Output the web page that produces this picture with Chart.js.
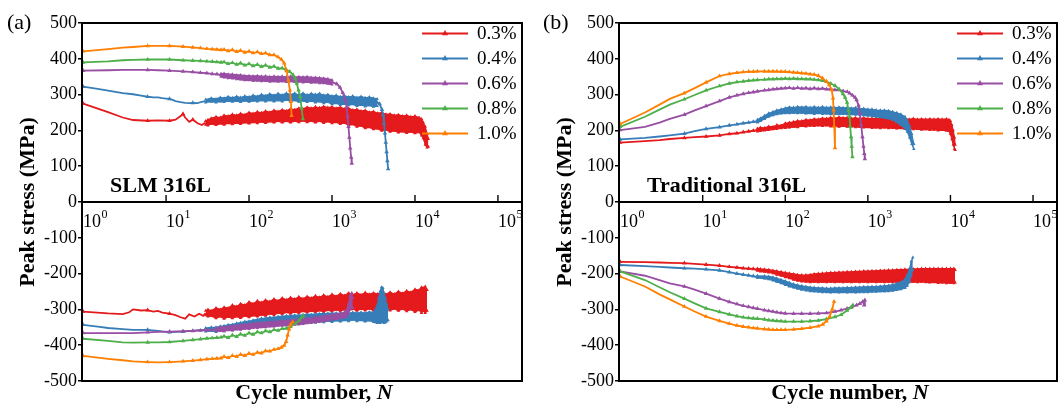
<!DOCTYPE html>
<html>
<head>
<meta charset="utf-8">
<script src="https://cdn.jsdelivr.net/npm/chart.js@4.4.1/dist/chart.umd.min.js"></script>
<style>
html,body{margin:0;padding:0;background:#fff;}
#wrap{position:relative;width:1061px;height:405px;overflow:hidden;}
.panel{position:absolute;top:0;height:405px;}
canvas{display:block;}
</style>
</head>
<body>
<div id="wrap">
  <div class="panel" style="left:0;width:530px"><canvas id="ca" width="530" height="405"></canvas></div>
  <div class="panel" style="left:530px;width:531px"><canvas id="cb" width="531" height="405"></canvas></div>
</div>
<script>
// ---------- labels ----------
const strainLabels = ['0.3%', '0.4%', '0.6%', '0.8%', '1.0%'];
const seriesColors = ['#e41a1c', '#377eb8', '#984ea3', '#4daf4a', '#ff7f00'];
const panelTags = ['(a)', '(b)'];
const materialLabels = ['SLM 316L', 'Traditional 316L'];
const yAxisTitle = 'Peak stress (MPa)';
const xAxisTitle = 'Cycle number, ';
const xAxisSymbol = 'N';
const xTickExponents = [0, 1, 2, 3, 4, 5];
const yTickStep = 100;

// Line parts: [cycle N, peak stress MPa]; scatter bands: [cycle N, lower MPa, upper MPa]
// ---------- (a) SLM 316L ----------
const slm03T = [[1,275],[2,251],[3,236],[4,229],[6,227],[8,228],[11,227],[13,230],[15,240],[16,246],[17,236],[19,224],[21,230],[24,220],[27,215],[30,222]];
const slm03TBand = [[30,216,226],[32,214,230],[35,218,234],[40,215,238],[45,219,236],[50,216,242],[56,220,240],[63,217,245],[71,221,242],[79,218,247],[89,222,244],[100,219,250],[112,223,247],[126,220,252],[141,224,249],[158,221,254],[178,225,251],[200,222,256],[224,226,253],[251,222,258],[282,226,255],[316,222,260],[355,226,258],[398,223,262],[447,227,260],[501,223,265],[562,226,262],[631,222,266],[708,226,263],[794,221,267],[891,225,264],[1000,220,266],[1122,223,262],[1259,218,265],[1413,221,260],[1585,214,262],[1778,217,257],[1995,210,259],[2239,213,254],[2512,206,256],[2818,209,251],[3162,203,253],[3548,205,248],[3981,199,250],[4467,202,245],[5012,196,246],[5623,199,242],[6310,194,244],[7079,197,240],[7943,193,242],[8913,196,238],[10000,192,240],[11220,195,236],[12000,186,232],[12589,178,222],[13300,160,210],[14000,152,190],[14500,154,176]];
const slm03TTail = [];
const slm03C = [[1,-306],[2,-311],[3,-313],[3.6,-308],[4,-300],[5,-303],[6,-302],[7,-306],[8,-304],[9,-309],[11,-312],[13,-316],[15,-322],[17,-326],[19,-314],[22,-320],[25,-312],[28,-318],[30,-310]];
const slm03CBand = [[30,-316,-304],[32,-320,-300],[35,-318,-304],[40,-325,-296],[45,-320,-300],[50,-326,-294],[56,-321,-296],[63,-325,-288],[71,-320,-292],[79,-324,-284],[89,-318,-288],[100,-322,-279],[112,-317,-284],[126,-320,-276],[141,-315,-281],[158,-318,-274],[178,-312,-278],[200,-316,-271],[224,-310,-276],[251,-313,-268],[282,-308,-273],[316,-312,-267],[355,-307,-271],[398,-310,-265],[447,-305,-270],[501,-309,-264],[562,-304,-268],[631,-308,-262],[708,-303,-266],[794,-307,-260],[891,-302,-265],[1000,-306,-258],[1122,-301,-263],[1259,-305,-256],[1413,-300,-261],[1585,-304,-254],[1778,-299,-259],[1995,-304,-254],[2239,-299,-259],[2512,-303,-253],[2818,-298,-258],[3162,-303,-254],[3548,-298,-257],[3981,-302,-253],[4467,-298,-258],[5012,-303,-252],[5623,-298,-257],[6310,-304,-250],[7079,-299,-255],[7943,-305,-248],[8913,-300,-252],[10000,-307,-244],[11220,-302,-246],[12000,-310,-238],[12589,-304,-240],[13300,-310,-236],[14000,-304,-246]];
const slm03CTail = [];
const slm04T = [[1,322],[1.5,316],[2,311],[3,304],[4,301],[5,297],[6,294],[7,292],[8,292],[9,290],[10,289],[11,288],[12,285],[13,282],[15,279],[17,277],[19,276],[21,277],[24,276],[27,280],[30,282]];
const slm04TBand = [[30,278,286],[35,280,290],[40,278,288],[45,281,292],[50,279,290],[56,282,294],[63,280,291],[71,282,295],[79,279,292],[89,283,296],[100,280,293],[112,283,298],[126,281,295],[141,284,300],[158,281,297],[178,284,302],[200,281,298],[224,284,303],[251,281,299],[282,285,304],[316,281,300],[355,284,304],[398,280,299],[447,283,304],[501,279,299],[562,282,303],[631,278,300],[708,281,303],[794,276,298],[891,279,300],[1000,273,296],[1122,276,298],[1259,271,294],[1413,274,297],[1585,270,293],[1778,273,296],[1995,268,292],[2239,271,295],[2512,267,291],[2818,270,293],[3162,266,290],[3500,268,288]];
const slm04TTail = [[3500,278],[3750,274],[4000,258],[4120,244],[4230,220],[4350,192],[4450,166],[4550,140],[4650,115],[4750,92]];
const slm04C = [[1,-343],[1.5,-348],[2,-352],[3,-355],[4,-357],[5,-357],[6,-357],[8,-360],[11,-364],[13,-363],[16,-362],[20,-360],[25,-358],[30,-357]];
const slm04CBand = [[30,-362,-352],[35,-360,-350],[40,-363,-350],[45,-358,-347],[50,-361,-346],[56,-356,-343],[63,-358,-342],[71,-353,-339],[79,-355,-337],[89,-350,-334],[100,-352,-333],[112,-347,-330],[126,-349,-328],[141,-344,-325],[158,-346,-324],[178,-341,-322],[200,-344,-322],[224,-340,-320],[251,-342,-319],[282,-338,-318],[316,-341,-318],[355,-337,-316],[398,-340,-316],[447,-336,-315],[501,-338,-314],[562,-334,-314],[631,-337,-313],[708,-333,-312],[794,-336,-312],[891,-332,-311],[1000,-335,-311],[1122,-331,-310],[1259,-334,-311],[1413,-330,-309],[1585,-333,-311],[1778,-329,-308],[1995,-333,-310],[2239,-330,-308],[2512,-334,-310],[2818,-331,-307],[3162,-335,-308],[3350,-336,-300],[3500,-338,-290],[3650,-337,-268],[3800,-338,-250],[3950,-335,-238],[4100,-336,-240],[4250,-338,-255],[4400,-336,-268],[4550,-334,-285],[4750,-330,-300]];
const slm04CTail = [];
const slm06T = [[1,367],[2,368],[3,369],[4,369],[6,369],[8,368],[11,367],[16,365],[21,363],[26,361],[31,360],[36,358],[41,357],[46,355]];
const slm06TBand = [[46,350,358],[50,348,359],[56,346,357],[63,345,357],[71,343,355],[79,342,355],[89,340,353],[100,340,353],[112,338,352],[126,339,353],[141,337,351],[158,338,352],[178,336,350],[200,337,351],[224,336,350],[251,337,351],[282,335,349],[316,337,351],[355,335,349],[398,336,350],[447,334,349],[501,335,350],[562,333,348],[631,334,348],[708,332,347],[794,332,346],[891,330,344],[1000,328,341]];
const slm06TTail = [[1000,335],[1140,330],[1250,320],[1350,305],[1450,285],[1500,265],[1540,240],[1580,210],[1620,180],[1660,150],[1700,125],[1730,108]];
const slm06C = [[1,-366],[2,-366],[3,-366],[4,-366],[6,-364],[8,-363],[11,-362],[16,-361],[21,-360],[26,-359],[31,-358],[36,-357],[41,-357]];
const slm06CBand = [[41,-361,-352],[45,-360,-350],[50,-361,-349],[56,-358,-348],[63,-359,-346],[71,-356,-345],[79,-357,-343],[89,-354,-342],[100,-355,-341],[112,-352,-339],[126,-352,-338],[141,-350,-337],[158,-350,-336],[178,-348,-335],[200,-348,-334],[224,-346,-333],[251,-346,-332],[282,-345,-331],[316,-344,-330],[355,-343,-329],[398,-342,-328],[447,-341,-327],[501,-339,-325],[562,-338,-324],[631,-336,-322],[708,-335,-321],[794,-333,-319],[891,-331,-317],[1000,-329,-315],[1122,-327,-313],[1259,-325,-311],[1413,-322,-308],[1500,-320,-302],[1580,-312,-285],[1650,-300,-262],[1730,-292,-254],[1780,-296,-268]];
const slm06CTail = [];
const slm08T = [[1,390],[2,393],[3,396],[4,397],[6,398],[8,398],[11,398],[16,396],[21,395],[26,394],[31,393],[36,392],[41,391],[46,390],[50,391],[56,386],[63,389],[71,384],[79,388],[89,382],[100,386],[112,380],[126,384],[141,378],[158,382],[178,376],[200,379],[224,373],[251,374],[282,369],[310,364],[340,355],[360,345],[376,331],[395,312],[413,294],[430,262],[446,232]];
const slm08TBand = [];
const slm08TTail = [];
const slm08C = [[1,-382],[2,-388],[3,-392],[4,-393],[6,-392],[8,-392],[11,-391],[16,-388],[21,-385],[26,-383],[31,-381],[36,-380],[41,-379],[46,-378],[50,-375],[56,-379],[63,-372],[71,-376],[79,-369],[89,-373],[100,-366],[112,-370],[126,-363],[141,-366],[158,-360],[178,-363],[200,-357],[224,-359],[251,-354],[282,-353],[316,-348],[359,-340],[400,-331],[433,-322],[450,-318]];
const slm08CBand = [];
const slm08CTail = [];
const slm10T = [[1,421],[2,427],[3,431],[4,433],[6,436],[8,436],[11,436],[16,434],[21,432],[26,430],[31,428],[36,427],[41,426],[46,425],[50,426],[56,422],[63,425],[71,420],[79,423],[89,418],[100,421],[112,416],[126,419],[141,414],[158,416],[178,411],[200,411],[224,405],[246,398],[265,388],[284,366],[298,340],[311,312],[320,280],[326,241]];
const slm10TBand = [];
const slm10TTail = [];
const slm10C = [[1,-430],[2,-438],[3,-442],[4,-445],[6,-447],[8,-448],[11,-447],[16,-445],[21,-443],[26,-441],[31,-439],[36,-438],[41,-437],[46,-436],[50,-432],[56,-435],[63,-429],[71,-432],[79,-426],[89,-429],[100,-423],[112,-426],[126,-420],[141,-422],[158,-416],[178,-417],[200,-412],[224,-410],[246,-406],[265,-401],[280,-390],[292,-372],[304,-355],[318,-342],[335,-335]];
const slm10CBand = [];
const slm10CTail = [];

// ---------- (b) Traditional 316L ----------
const trad03T = [[1,166],[2,170],[3,173],[4,176],[6,179],[8,181],[11,183],[16,186],[21,190],[26,192],[31,195],[36,197],[41,199],[46,201]];
const trad03TBand = [[46,197,205],[50,198,208],[56,200,207],[63,201,211],[71,203,210],[79,204,215],[89,206,214],[100,207,220],[112,208,222],[126,210,224],[141,209,227],[158,212,226],[178,211,230],[200,213,229],[224,212,232],[251,214,231],[282,212,234],[316,214,233],[355,211,236],[398,213,234],[447,210,237],[501,212,235],[562,210,236],[631,211,234],[708,209,235],[794,210,233],[891,208,235],[1000,209,233],[1122,207,234],[1259,208,233],[1413,206,234],[1585,208,232],[1778,206,234],[1995,207,232],[2239,205,233],[2512,206,232],[2818,204,233],[3162,205,231],[3548,203,233],[3981,204,231],[4467,202,232],[5012,203,231],[5623,201,232],[6310,202,231],[7079,200,232],[7943,201,231],[8913,199,232],[9600,198,230],[10000,190,226],[10400,175,215],[10800,160,200],[11200,148,180],[11400,145,160]];
const trad03TTail = [];
const trad03C = [[1,-167],[2,-168],[3,-169],[4,-170],[6,-171],[8,-173],[11,-175],[16,-178],[21,-181],[26,-183],[31,-185],[36,-186],[41,-187],[46,-189]];
const trad03CBand = [[46,-192,-186],[50,-194,-187],[56,-195,-188],[63,-197,-189],[71,-199,-191],[79,-203,-193],[89,-206,-195],[100,-210,-197],[112,-213,-199],[126,-217,-201],[141,-220,-203],[158,-222,-204],[178,-223,-204],[200,-224,-203],[224,-223,-201],[251,-224,-200],[282,-223,-199],[316,-224,-198],[355,-223,-197],[398,-224,-197],[447,-223,-196],[501,-224,-196],[562,-223,-195],[631,-224,-195],[708,-223,-194],[794,-224,-194],[891,-223,-193],[1000,-224,-193],[1122,-223,-192],[1259,-224,-192],[1413,-223,-191],[1585,-224,-191],[1778,-223,-190],[1995,-224,-190],[2239,-223,-189],[2512,-224,-189],[2818,-223,-188],[3162,-224,-188],[3548,-223,-187],[3981,-224,-187],[4467,-223,-186],[5012,-224,-186],[5623,-225,-186],[6310,-224,-186],[7079,-226,-186],[7943,-225,-186],[8913,-227,-186],[10000,-226,-186],[11000,-227,-186],[11400,-225,-190]];
const trad03CTail = [];
const trad04T = [[1,175],[2,179],[3,183],[4,186],[6,191],[8,198],[11,204],[16,209],[21,214],[26,217],[31,220],[36,222],[41,224],[46,226]];
const trad04TBand = [[46,222,230],[50,226,234],[56,232,241],[63,238,248],[71,242,252],[79,245,256],[89,247,259],[100,248,262],[112,248,265],[126,249,264],[141,248,266],[158,249,265],[178,247,266],[200,248,264],[224,246,266],[251,248,264],[282,246,266],[316,247,264],[355,245,265],[398,246,263],[447,245,265],[501,246,263],[562,245,264],[631,245,262],[708,244,263],[794,244,261],[891,242,261],[1000,241,259],[1122,240,259],[1259,238,257],[1413,237,256],[1585,235,256],[1778,233,255],[1995,229,252],[2239,223,249],[2512,215,245],[2818,205,238],[3000,196,228],[3200,180,212],[3400,162,190],[3600,148,162]];
const trad04TTail = [];
const trad04C = [[1,-176],[2,-179],[3,-181],[4,-183],[6,-185],[8,-186],[11,-188],[16,-191],[21,-196],[26,-200],[31,-203],[36,-205],[41,-207],[46,-209]];
const trad04CBand = [[46,-212,-206],[56,-214,-207],[63,-216,-208],[71,-219,-210],[79,-223,-213],[89,-227,-217],[100,-232,-221],[112,-236,-225],[126,-239,-229],[141,-242,-232],[158,-245,-234],[178,-247,-236],[200,-249,-238],[224,-250,-239],[251,-251,-240],[282,-252,-240],[316,-252,-241],[355,-253,-241],[398,-252,-240],[447,-253,-240],[501,-252,-240],[562,-253,-239],[631,-252,-239],[708,-253,-238],[794,-252,-238],[891,-252,-237],[1000,-252,-237],[1122,-251,-236],[1259,-251,-236],[1413,-250,-235],[1585,-250,-234],[1778,-249,-233],[1995,-248,-231],[2239,-246,-228],[2512,-244,-224],[2818,-240,-216],[3000,-234,-204],[3200,-222,-186],[3350,-205,-166],[3500,-190,-155]];
const trad04CTail = [];
const trad06T = [[1,201],[2,210],[3,222],[4,232],[6,244],[8,256],[11,268],[16,282],[21,292],[26,298],[31,302],[36,305],[41,307],[46,309],[56,312],[63,313],[71,315],[79,316],[89,317],[100,318],[112,319],[126,317],[141,319],[158,317],[178,318],[200,316],[224,318],[251,316],[282,317],[316,315],[355,315],[400,313],[447,313],[501,310],[562,308],[600,304],[650,298],[700,292],[730,285],[770,270],[800,248],[830,215],[860,182],[885,155],[905,135],[920,120]];
const trad06TBand = [];
const trad06TTail = [];
const trad06C = [[1,-194],[2,-206],[3,-218],[4,-227],[6,-236],[8,-245],[11,-256],[16,-270],[21,-279],[26,-285],[31,-290],[36,-293],[41,-296],[46,-298],[56,-302],[63,-304],[71,-306],[79,-308],[89,-310],[100,-311],[126,-312],[158,-312],[200,-312],[251,-311],[316,-310],[400,-306],[475,-302],[560,-298],[640,-293],[730,-288],[800,-284],[870,-278],[900,-288],[920,-274]];
const trad06CBand = [];
const trad06CTail = [];
const trad08T = [[1,210],[2,238],[3,258],[4,272],[6,287],[8,299],[11,312],[16,324],[21,331],[26,335],[31,337],[36,339],[41,340],[46,341],[56,342],[63,343],[71,343],[79,344],[89,344],[100,345],[112,344],[126,345],[141,344],[158,344],[178,343],[200,343],[224,342],[251,341],[282,339],[316,336],[355,331],[400,325],[450,315],[500,302],[530,292],[560,278],[585,255],[600,238],[612,210],[625,182],[637,155],[650,126]];
const trad08TBand = [];
const trad08TTail = [];
const trad08C = [[1,-194],[2,-218],[3,-238],[4,-252],[6,-270],[8,-283],[11,-297],[16,-307],[21,-314],[26,-319],[31,-322],[36,-324],[41,-325],[46,-326],[56,-328],[63,-330],[71,-331],[79,-332],[89,-333],[100,-334],[126,-334],[158,-334],[200,-333],[251,-331],[316,-327],[400,-321],[475,-315],[560,-303],[620,-295],[660,-288]];
const trad08CBand = [];
const trad08CTail = [];
const trad10T = [[1,218],[2,250],[3,272],[4,288],[6,304],[8,318],[11,334],[16,352],[21,358],[26,361],[31,363],[36,364],[41,364],[46,365],[56,365],[63,365],[71,365],[79,365],[89,364],[100,364],[112,363],[126,362],[141,361],[158,360],[178,359],[200,357],[224,356],[251,353],[282,346],[316,336],[340,327],[365,313],[378,290],[385,257],[392,210],[400,151]];
const trad10TBand = [];
const trad10TTail = [];
const trad10C = [[1,-208],[2,-236],[3,-258],[4,-272],[6,-292],[8,-306],[11,-320],[16,-332],[21,-340],[26,-345],[31,-348],[36,-350],[41,-352],[46,-353],[56,-355],[63,-356],[71,-357],[79,-357],[89,-357],[100,-357],[126,-356],[158,-354],[200,-351],[251,-347],[285,-342],[315,-333],[345,-320],[370,-300],[390,-278]];
const trad10CBand = [];
const trad10CTail = [];

// tables for the library, built from the named arrays
const slmCurves = [
  [slm03T, slm03TBand, slm03TTail], [slm03C, slm03CBand, slm03CTail],
  [slm04T, slm04TBand, slm04TTail], [slm04C, slm04CBand, slm04CTail],
  [slm06T, slm06TBand, slm06TTail], [slm06C, slm06CBand, slm06CTail],
  [slm08T, slm08TBand, slm08TTail], [slm08C, slm08CBand, slm08CTail],
  [slm10T, slm10TBand, slm10TTail], [slm10C, slm10CBand, slm10CTail]
];
const tradCurves = [
  [trad03T, trad03TBand, trad03TTail], [trad03C, trad03CBand, trad03CTail],
  [trad04T, trad04TBand, trad04TTail], [trad04C, trad04CBand, trad04CTail],
  [trad06T, trad06TBand, trad06TTail], [trad06C, trad06CBand, trad06CTail],
  [trad08T, trad08TBand, trad08TTail], [trad08C, trad08CBand, trad08CTail],
  [trad10T, trad10TBand, trad10TTail], [trad10C, trad10CBand, trad10CTail]
];

const FONT = '"Liberation Serif", "Times New Roman", serif';

function markerRadius(ctx) {
  const n = ctx.raw ? ctx.raw.x : 0;
  return (n >= 50 || n % 5 === 1) ? 2.6 : 0;
}

const decorPlugin = {
  id: 'decor',
  afterDraw(chart, args, o) {
    const ctx = chart.ctx, a = chart.chartArea;
    const xs = chart.scales.x, ys = chart.scales.y;
    ctx.save();
    ctx.strokeStyle = '#000';
    ctx.fillStyle = '#000';
    ctx.lineWidth = 2;
    ctx.strokeRect(a.left, a.top, a.right - a.left, a.bottom - a.top);
    const y0 = ys.getPixelForValue(0);
    ctx.beginPath(); ctx.moveTo(a.left, y0); ctx.lineTo(a.right, y0); ctx.stroke();
    ctx.lineWidth = 1.4;
    xs.ticks.forEach(t => {
      const v = t.value;
      const e = Math.floor(Math.log10(v) + 1e-9);
      const m = v / Math.pow(10, e);
      if (Math.abs(m - Math.round(m)) > 1e-6) return;
      const px = xs.getPixelForValue(v);
      if (px < a.left + 1 || px > a.right - 1) return;
      const len = Math.round(m) === 1 ? 7 : 4;
      ctx.beginPath(); ctx.moveTo(px, y0); ctx.lineTo(px, y0 - len); ctx.stroke();
    });
    ctx.textAlign = 'left';
    ctx.textBaseline = 'alphabetic';
    xTickExponents.forEach(e => {
      const px = xs.getPixelForValue(Math.pow(10, e));
      ctx.font = '18px ' + FONT;
      ctx.fillText('10', px, y0 + 25);
      const w = ctx.measureText('10').width;
      ctx.font = '12px ' + FONT;
      ctx.fillText(String(e), px + w + 0.5, y0 + 16);
    });
    const lx = a.right - 100;
    strainLabels.forEach((lab, i) => {
      const ly = a.top + 10.5 + i * 25;
      ctx.strokeStyle = seriesColors[i];
      ctx.fillStyle = seriesColors[i];
      ctx.lineWidth = 1.8;
      ctx.beginPath(); ctx.moveTo(lx, ly); ctx.lineTo(lx + 46, ly); ctx.stroke();
      const cx = lx + 23;
      ctx.beginPath(); ctx.moveTo(cx, ly - 3.4); ctx.lineTo(cx + 3, ly + 1.7); ctx.lineTo(cx - 3, ly + 1.7); ctx.closePath(); ctx.fill();
      ctx.fillStyle = '#000';
      ctx.font = '19px ' + FONT;
      ctx.textBaseline = 'middle';
      ctx.fillText(lab, lx + 55, ly + 1);
    });
    ctx.fillStyle = '#000';
    ctx.textBaseline = 'alphabetic';
    ctx.font = 'bold 22px ' + FONT;
    ctx.fillText(o.material, o.materialX, 192);
    ctx.font = '22px ' + FONT;
    ctx.fillText(o.tag, o.tagX, 29);
    ctx.save();
    ctx.translate(o.yTitleX, (a.top + a.bottom) / 2);
    ctx.rotate(-Math.PI / 2);
    ctx.textAlign = 'center';
    ctx.textBaseline = 'middle';
    ctx.font = 'bold 22px ' + FONT;
    ctx.fillText(yAxisTitle, 0, 0);
    ctx.restore();
    ctx.font = 'bold 22px ' + FONT;
    const w1 = ctx.measureText(xAxisTitle).width;
    ctx.font = 'italic bold 22px ' + FONT;
    const w2 = ctx.measureText(xAxisSymbol).width;
    const cx0 = (a.left + a.right) / 2 + 12 - (w1 + w2) / 2;
    ctx.textAlign = 'left';
    ctx.font = 'bold 22px ' + FONT;
    ctx.fillText(xAxisTitle, cx0, 399);
    ctx.font = 'italic bold 22px ' + FONT;
    ctx.fillText(xAxisSymbol, cx0 + w1, 399);
    ctx.restore();
  }
};

function buildDatasets(curves) {
  const datasets = [];
  curves.forEach((parts, k) => {
    const i = Math.floor(k / 2);
    const color = seriesColors[i];
    const order = strainLabels.length - i;
    const lineStyle = {
      label: strainLabels[i], borderColor: color, backgroundColor: color,
      pointBackgroundColor: color, pointBorderWidth: 0, borderWidth: 1.8,
      pointStyle: 'triangle', pointRadius: markerRadius, fill: false, order
    };
    const edgeStyle = {
      label: strainLabels[i], borderColor: color, backgroundColor: color,
      pointBackgroundColor: color, pointBorderWidth: 0, borderWidth: 1.2,
      pointStyle: 'triangle', pointRadius: 2, order
    };
    const [line, band, tail] = parts;
    datasets.push(Object.assign({ data: line.map(p => ({ x: p[0], y: p[1] })) }, lineStyle));
    if (band.length) {
      datasets.push(Object.assign({ data: band.map(p => ({ x: p[0], y: p[1] })), fill: false }, edgeStyle));
      datasets.push(Object.assign({ data: band.map(p => ({ x: p[0], y: p[2] })), fill: '-1' }, edgeStyle));
    }
    if (tail.length) {
      datasets.push(Object.assign({ data: tail.map(p => ({ x: p[0], y: p[1] })) }, lineStyle));
    }
  });
  return datasets;
}

function makeChart(id, curves, cfg) {
  return new Chart(document.getElementById(id), {
    type: 'line',
    data: { datasets: buildDatasets(curves) },
    plugins: [decorPlugin],
    options: {
      responsive: false,
      animation: false,
      devicePixelRatio: 1,
      layout: { padding: { left: 0, top: 23, right: cfg.padRight, bottom: 24 } },
      plugins: {
        legend: { display: false },
        tooltip: { enabled: false },
        decor: { material: cfg.material, materialX: cfg.materialX, tag: cfg.tag, tagX: cfg.tagX, yTitleX: cfg.yTitleX }
      },
      scales: {
        x: { type: 'logarithmic', min: 0.97, max: 195000, display: false },
        y: {
          type: 'linear', min: -500, max: 500,
          ticks: { stepSize: yTickStep, color: '#000', padding: 1, font: { family: FONT, size: 18 } },
          grid: { drawOnChartArea: false, drawTicks: true, tickLength: 4, color: '#000', lineWidth: 1.5 },
          border: { display: false },
          afterFit: (s) => { s.width = cfg.yWidth; }
        }
      }
    }
  });
}

makeChart('ca', slmCurves, { padRight: 8, yWidth: 82, material: materialLabels[0], materialX: 110, tag: panelTags[0], tagX: 7, yTitleX: 28 });
makeChart('cb', tradCurves, { padRight: 3, yWidth: 89, material: materialLabels[1], materialX: 117, tag: panelTags[1], tagX: 13, yTitleX: 35 });
</script>
</body>
</html>
